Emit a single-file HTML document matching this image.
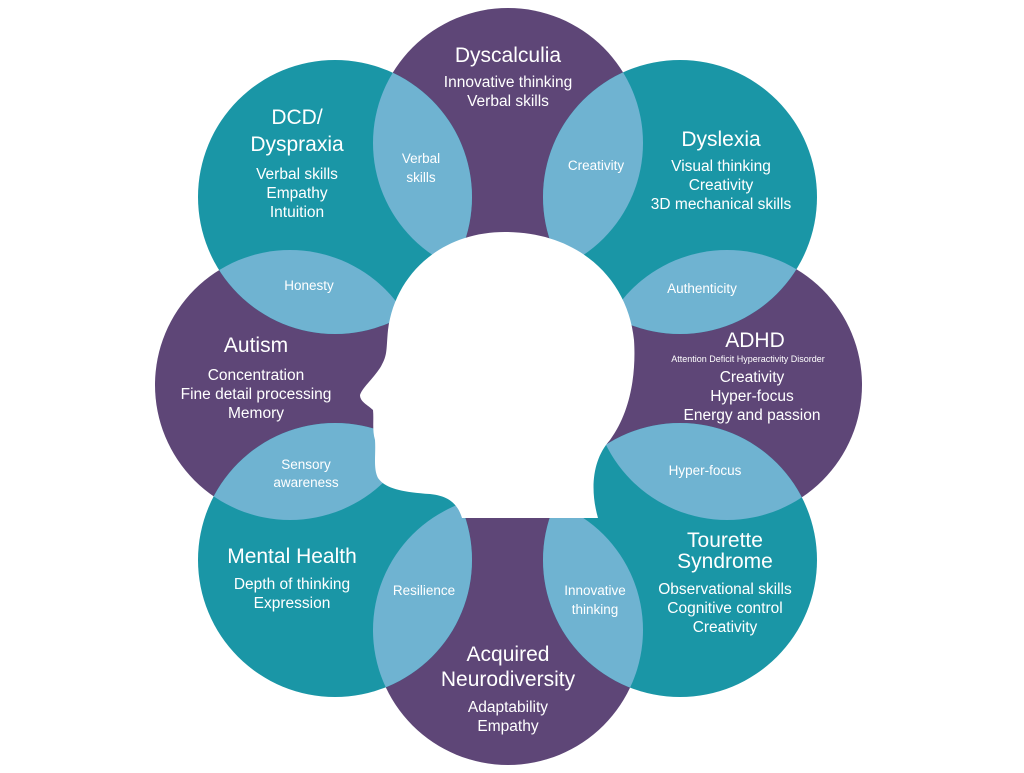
<!DOCTYPE html>
<html><head><meta charset="utf-8"><style>
body{margin:0;background:#fff}
svg text{font-family:"Liberation Sans",sans-serif;fill:#fff;text-anchor:middle}
.t{font-size:21px}.s{font-size:15.5px}.o{font-size:13.5px}
</style></head><body>
<svg width="1024" height="768" viewBox="0 0 1024 768">
<defs>
<clipPath id="cA"><circle cx="508" cy="143" r="135"/></clipPath>
<clipPath id="cC"><circle cx="727" cy="385" r="135"/></clipPath>
<clipPath id="cE"><circle cx="508" cy="630" r="135"/></clipPath>
<clipPath id="cG"><circle cx="290" cy="385" r="135"/></clipPath>
</defs>
<circle cx="508" cy="385" r="150" fill="#5e4677"/>
<circle cx="508" cy="143" r="135" fill="#5e4677"/>
<circle cx="727" cy="385" r="135" fill="#5e4677"/>
<circle cx="508" cy="630" r="135" fill="#5e4677"/>
<circle cx="290" cy="385" r="135" fill="#5e4677"/>
<circle cx="680" cy="197" r="137" fill="#1a96a6"/>
<circle cx="680" cy="560" r="137" fill="#1a96a6"/>
<circle cx="335" cy="560" r="137" fill="#1a96a6"/>
<circle cx="335" cy="197" r="137" fill="#1a96a6"/>
<g fill="#6fb3d1">
<circle cx="680" cy="197" r="137" clip-path="url(#cA)"/>
<circle cx="680" cy="197" r="137" clip-path="url(#cC)"/>
<circle cx="680" cy="560" r="137" clip-path="url(#cC)"/>
<circle cx="680" cy="560" r="137" clip-path="url(#cE)"/>
<circle cx="335" cy="560" r="137" clip-path="url(#cE)"/>
<circle cx="335" cy="560" r="137" clip-path="url(#cG)"/>
<circle cx="335" cy="197" r="137" clip-path="url(#cG)"/>
<circle cx="335" cy="197" r="137" clip-path="url(#cA)"/>
</g>
<path fill="#fff" d="M462,518 L598,518 C590,490 592,460 610,440 C632,410 636,370 634,340 C628,280 580,232 505,232 C440,232 395,275 388,330 C386,350 388,355 380,368 C372,380 362,388 360,395 C360,402 368,405 373,410 C374,420 372,430 375,440 C376,455 373,468 378,478 C385,488 400,492 430,494 C450,496 458,505 462,518 Z"/>
<text class="t" x="508" y="62">Dyscalculia</text>
<text class="s" x="508" y="87">Innovative thinking</text>
<text class="s" x="508" y="106">Verbal skills</text>
<text class="t" x="297" y="124">DCD/</text>
<text class="t" x="297" y="151">Dyspraxia</text>
<text class="s" x="297" y="179">Verbal skills</text>
<text class="s" x="297" y="198">Empathy</text>
<text class="s" x="297" y="217">Intuition</text>
<text class="t" x="721" y="146">Dyslexia</text>
<text class="s" x="721" y="171">Visual thinking</text>
<text class="s" x="721" y="190">Creativity</text>
<text class="s" x="721" y="209">3D mechanical skills</text>
<text class="t" x="256" y="352">Autism</text>
<text class="s" x="256" y="380">Concentration</text>
<text class="s" x="256" y="399">Fine detail processing</text>
<text class="s" x="256" y="418">Memory</text>
<text class="t" x="755" y="347">ADHD</text>
<text x="748" y="362" style="font-size:9px">Attention Deficit Hyperactivity Disorder</text>
<text class="s" x="752" y="382">Creativity</text>
<text class="s" x="752" y="401">Hyper-focus</text>
<text class="s" x="752" y="420">Energy and passion</text>
<text class="t" x="292" y="563">Mental Health</text>
<text class="s" x="292" y="589">Depth of thinking</text>
<text class="s" x="292" y="608">Expression</text>
<text class="t" x="725" y="547">Tourette</text>
<text class="t" x="725" y="568">Syndrome</text>
<text class="s" x="725" y="594">Observational skills</text>
<text class="s" x="725" y="613">Cognitive control</text>
<text class="s" x="725" y="632">Creativity</text>
<text class="t" x="508" y="661">Acquired</text>
<text class="t" x="508" y="686">Neurodiversity</text>
<text class="s" x="508" y="712">Adaptability</text>
<text class="s" x="508" y="731">Empathy</text>
<text class="o" x="421" y="163">Verbal</text>
<text class="o" x="421" y="182">skills</text>
<text class="o" x="596" y="170">Creativity</text>
<text class="o" x="309" y="290">Honesty</text>
<text class="o" x="702" y="293">Authenticity</text>
<text class="o" x="306" y="469">Sensory</text>
<text class="o" x="306" y="487">awareness</text>
<text class="o" x="705" y="475">Hyper-focus</text>
<text class="o" x="424" y="595">Resilience</text>
<text class="o" x="595" y="595">Innovative</text>
<text class="o" x="595" y="614">thinking</text>
</svg>
</body></html>
